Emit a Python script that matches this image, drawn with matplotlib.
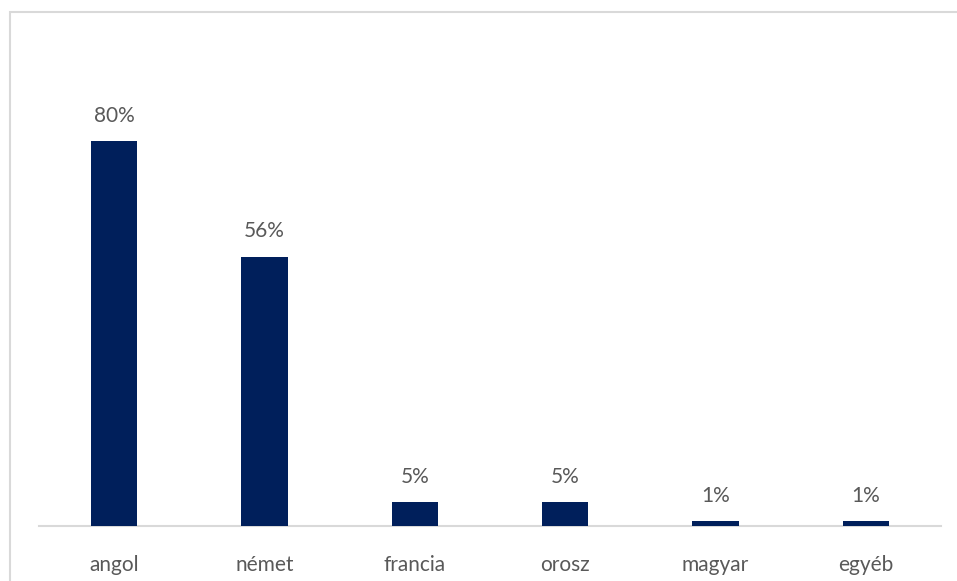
import matplotlib
matplotlib.use("Agg")
import matplotlib.pyplot as plt
from matplotlib.patches import Rectangle

categories = ["angol", "német", "francia", "orosz", "magyar", "egyéb"]
values = [80, 56, 5, 5, 1, 1]
labels = ["80%", "56%", "5%", "5%", "1%", "1%"]

W, H = 957, 581
fig = plt.figure(figsize=(W / 100, H / 100), dpi=100)
fig.patch.set_facecolor("white")

# chart-area frame (left and top edges visible, running off the canvas)
fig.patches.append(Rectangle((10 / W, -0.1), 1.2, (H - 12.5) / H + 0.1,
                             transform=fig.transFigure, fill=False,
                             edgecolor="#d9d9d9", linewidth=1.5))

left, right = 39 / W, 941 / W
bottom = (H - 526) / H
top = (H - 45) / H
ax = fig.add_axes([left, bottom, right - left, top - bottom])

x = range(len(categories))
ax.bar(x, values, width=0.31, color="#001f5b", zorder=3)
ax.set_xlim(-0.5, len(categories) - 0.5)
ax.set_ylim(0, 100)

text_color = "#595959"
font = ["Lato", "DejaVu Sans"]
for xi, v, lab in zip(x, values, labels):
    ax.annotate(lab, (xi, v), xytext=(0, 11), textcoords="offset points",
                ha="center", va="bottom", fontsize=15, color=text_color,
                family=font)

ax.set_xticks(list(x))
ax.set_xticklabels(categories, fontsize=15, color=text_color, family=font)
ax.tick_params(axis="x", length=0, pad=21)
ax.set_yticks([])
for s in ["top", "right", "left"]:
    ax.spines[s].set_visible(False)
ax.spines["bottom"].set_color("#d9d9d9")
ax.spines["bottom"].set_linewidth(1.5)

fig.savefig("out.png", dpi=100, facecolor="white")
